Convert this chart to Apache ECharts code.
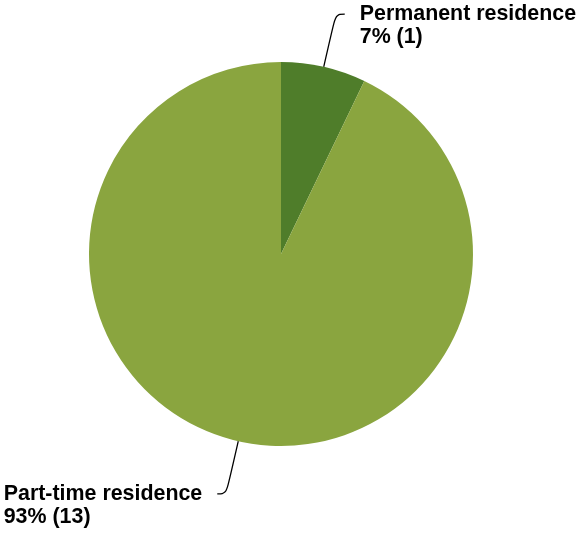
<!DOCTYPE html>
<html>
<head>
<meta charset="utf-8">
<script src="https://cdn.jsdelivr.net/npm/echarts@6/dist/echarts.min.js"></script>
<style>html,body{margin:0;padding:0;background:#fff}#c{width:577px;height:533px}</style>
</head>
<body>
<div id="c"></div>
<script>
const categories = ['Permanent residence', 'Part-time residence'];
const values = [1, 13];
const colors = ['#4f7d2a', '#8aa53f'];

const txt = {
  fontFamily: 'Liberation Sans, Arial, sans-serif',
  fontWeight: 'bold',
  fontSize: 21.4,
  lineHeight: 23,
  color: '#000',
  align: 'left'
};

const chart = echarts.init(document.getElementById('c'), null, {renderer: 'canvas'});
chart.setOption({
  backgroundColor: '#ffffff',
  animation: false,
  series: [{
    type: 'pie',
    left: 0, top: 0, width: 900, height: 533,
    center: [281, 254],
    radius: 192,
    startAngle: 90,
    clockwise: true,
    avoidLabelOverlap: false,
    data: categories.map((n, i) => ({name: n, value: values[i], itemStyle: {color: colors[i]}})),
    itemStyle: {borderWidth: 0},
    label: {
      show: true,
      position: 'outside',
      formatter: function (p) {
        return '{e| }\n{a|' + p.name + '}\n{a|' + Math.round(p.percent) + '% (' + p.value + ')}';
      },
      fontFamily: txt.fontFamily,
      fontWeight: 'bold',
      fontSize: txt.fontSize,
      lineHeight: txt.lineHeight,
      color: '#000',
      rich: {a: txt, e: txt},
      distanceToLabelLine: 15,
      overflow: 'none'
    },
    labelLine: {
      show: true,
      length: 54,
      length2: 9,
      smooth: 0.4,
      lineStyle: {color: '#000', width: 1.3}
    },
    emphasis: {disabled: true}
  }]
});
</script>
</body>
</html>
